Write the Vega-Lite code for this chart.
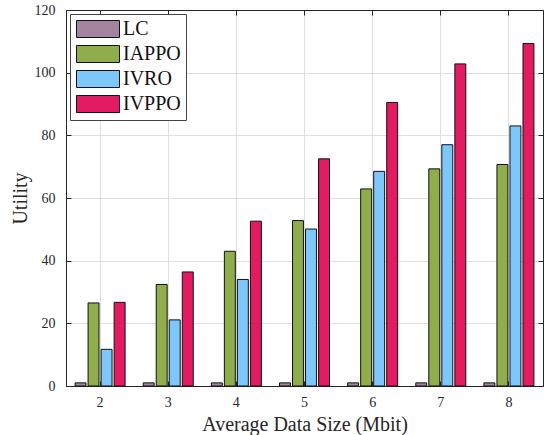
{
  "$schema": "https://vega.github.io/schema/vega-lite/v6.json",
  "width": 477,
  "height": 376,
  "autosize": "none",
  "padding": {"left": 66, "top": 10, "right": 2, "bottom": 49},
  "background": "white",
  "config": {
    "font": "Liberation Serif",
    "view": {"stroke": "#262626", "strokeWidth": 1},
    "axis": {
      "domainColor": "#262626",
      "tickColor": "#262626",
      "labelColor": "#262626",
      "titleColor": "#262626",
      "labelFont": "Liberation Serif",
      "titleFont": "Liberation Serif",
      "labelFontSize": 14,
      "titleFontSize": 20,
      "titleFontWeight": "normal",
      "gridColor": "#dfdfdf",
      "gridWidth": 1,
      "tickSize": -5,
      "domainWidth": 1
    }
  },
  "data": {
    "values": [
      {"size": 2, "method": "LC", "utility": 1.0},
      {"size": 2, "method": "IAPPO", "utility": 26.5},
      {"size": 2, "method": "IVRO", "utility": 11.7},
      {"size": 2, "method": "IVPPO", "utility": 26.7},
      {"size": 3, "method": "LC", "utility": 1.0},
      {"size": 3, "method": "IAPPO", "utility": 32.4},
      {"size": 3, "method": "IVRO", "utility": 21.1},
      {"size": 3, "method": "IVPPO", "utility": 36.4},
      {"size": 4, "method": "LC", "utility": 1.0},
      {"size": 4, "method": "IAPPO", "utility": 43.0},
      {"size": 4, "method": "IVRO", "utility": 34.0},
      {"size": 4, "method": "IVPPO", "utility": 52.6},
      {"size": 5, "method": "LC", "utility": 1.0},
      {"size": 5, "method": "IAPPO", "utility": 52.8},
      {"size": 5, "method": "IVRO", "utility": 50.1},
      {"size": 5, "method": "IVPPO", "utility": 72.5},
      {"size": 6, "method": "LC", "utility": 1.0},
      {"size": 6, "method": "IAPPO", "utility": 62.9},
      {"size": 6, "method": "IVRO", "utility": 68.5},
      {"size": 6, "method": "IVPPO", "utility": 90.5},
      {"size": 7, "method": "LC", "utility": 1.0},
      {"size": 7, "method": "IAPPO", "utility": 69.3},
      {"size": 7, "method": "IVRO", "utility": 77.0},
      {"size": 7, "method": "IVPPO", "utility": 102.8},
      {"size": 8, "method": "LC", "utility": 1.0},
      {"size": 8, "method": "IAPPO", "utility": 70.7},
      {"size": 8, "method": "IVRO", "utility": 83.0},
      {"size": 8, "method": "IVPPO", "utility": 109.3}
    ]
  },
  "resolve": {"axis": {"x": "independent", "y": "independent"}},
  "layer": [
    {
      "mark": {"type": "bar", "stroke": "#111111", "strokeWidth": 1, "opacity": 1},
      "encoding": {
        "x": {
          "field": "size", "type": "ordinal",
          "scale": {"paddingInner": 0.266, "paddingOuter": 0.133},
          "axis": {"orient": "bottom", "title": "Average Data Size (Mbit)", "labelAngle": 0, "grid": true, "bandPosition": 0.5, "labelPadding": 14, "titlePadding": 5}
        },
        "xOffset": {
          "field": "method", "type": "nominal",
          "sort": ["LC", "IAPPO", "IVRO", "IVPPO"],
          "scale": {"paddingInner": 0.16, "paddingOuter": 0}
        },
        "y": {
          "field": "utility", "type": "quantitative",
          "scale": {"domain": [0, 120], "nice": false},
          "axis": {"orient": "left", "title": "Utility", "values": [0, 20, 40, 60, 80, 100, 120], "grid": true, "labelPadding": 16, "titlePadding": 4}
        },
        "color": {
          "field": "method", "type": "nominal",
          "sort": ["LC", "IAPPO", "IVRO", "IVPPO"],
          "scale": {"domain": ["LC", "IAPPO", "IVRO", "IVPPO"], "range": ["#a3849f", "#8fad4b", "#7ec7fa", "#e31b60"]},
          "legend": {
            "title": null,
            "orient": "none",
            "legendX": 4,
            "legendY": 4,
            "symbolType": "M-1,-1H4.06V1H-1Z",
            "symbolSize": 289,
            "symbolStrokeColor": "#111111",
            "symbolStrokeWidth": 1,
            "symbolOpacity": 1,
            "labelFontSize": 20,
            "labelFont": "Liberation Serif",
            "labelColor": "#111111",
            "labelOffset": 28,
            "rowPadding": 3,
            "padding": 5,
            "fillColor": "white",
            "strokeColor": "#444444",
            "labelLimit": 200
          }
        }
      }
    },
    {
      "mark": {"type": "bar", "opacity": 0},
      "encoding": {
        "x": {
          "field": "size", "type": "ordinal",
          "axis": {"orient": "top", "labels": false, "title": null, "grid": false, "bandPosition": 0.5}
        },
        "y": {
          "field": "utility", "type": "quantitative",
          "axis": {"orient": "right", "labels": false, "title": null, "grid": false, "values": [0, 20, 40, 60, 80, 100, 120]}
        }
      }
    }
  ]
}
